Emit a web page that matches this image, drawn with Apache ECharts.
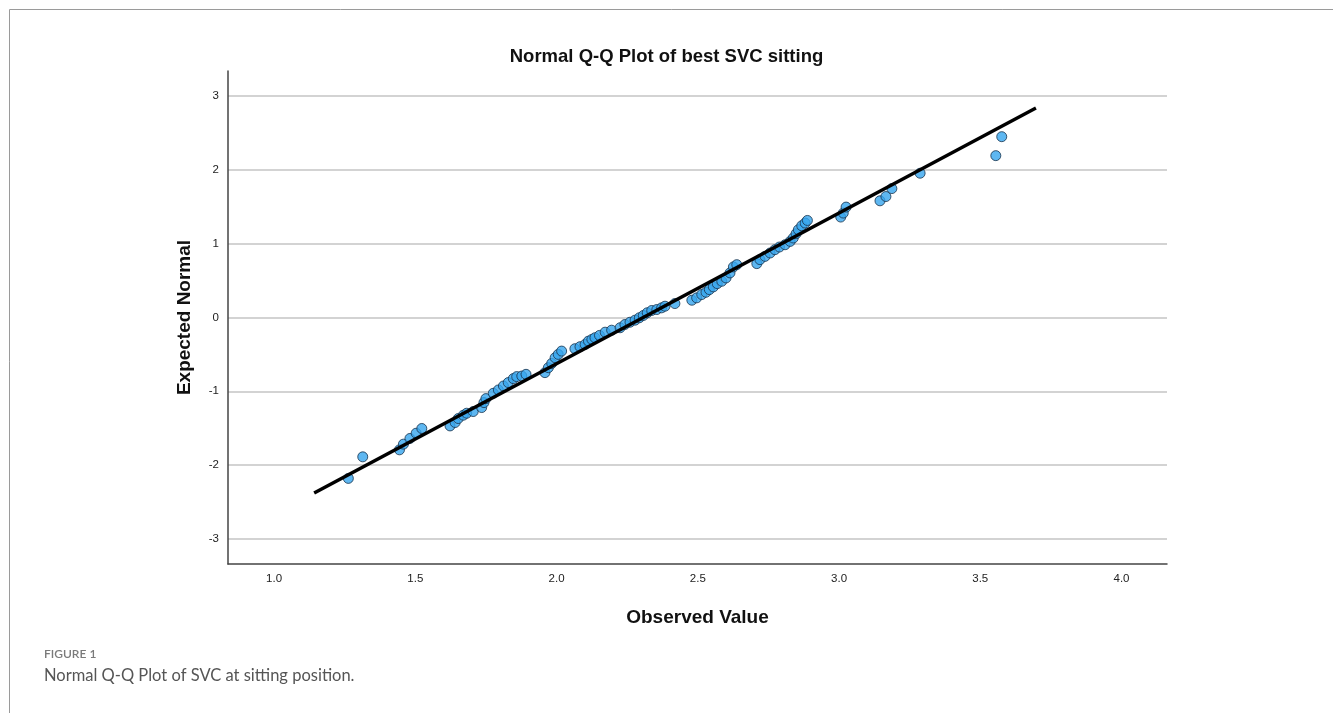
<!DOCTYPE html>
<html>
<head>
<meta charset="utf-8">
<script src="https://cdn.jsdelivr.net/npm/echarts@6/dist/echarts.min.js"></script>
<style>
html,body{margin:0;padding:0;background:#fff;}
#chart{width:1333px;height:713px;}
</style>
</head>
<body>
<div id="chart"></div>
<script>
const observed = [1.263,1.314,1.444,1.458,1.481,1.503,1.523,1.623,1.641,1.652,1.670,1.682,1.705,1.735,1.743,1.750,1.776,1.794,1.812,1.829,1.847,1.859,1.877,1.892,1.959,1.971,1.983,1.995,2.006,2.018,2.065,2.083,2.101,2.113,2.125,2.136,2.152,2.172,2.195,2.225,2.242,2.260,2.278,2.293,2.307,2.321,2.337,2.355,2.372,2.384,2.419,2.479,2.496,2.514,2.529,2.541,2.555,2.569,2.585,2.600,2.614,2.626,2.638,2.709,2.720,2.738,2.756,2.773,2.789,2.809,2.827,2.838,2.848,2.856,2.868,2.880,2.888,3.006,3.015,3.025,3.145,3.166,3.187,3.287,3.555,3.576];
const expected = [-2.180,-1.888,-1.793,-1.716,-1.639,-1.568,-1.504,-1.469,-1.423,-1.369,-1.324,-1.297,-1.274,-1.220,-1.153,-1.099,-1.027,-0.982,-0.928,-0.882,-0.828,-0.801,-0.793,-0.770,-0.747,-0.680,-0.622,-0.545,-0.500,-0.455,-0.423,-0.396,-0.365,-0.320,-0.297,-0.274,-0.243,-0.199,-0.172,-0.139,-0.095,-0.064,-0.036,-0.004,0.027,0.064,0.095,0.108,0.131,0.153,0.189,0.234,0.266,0.311,0.342,0.378,0.415,0.459,0.491,0.536,0.604,0.685,0.716,0.730,0.784,0.828,0.874,0.919,0.955,0.986,1.031,1.077,1.135,1.189,1.243,1.280,1.315,1.361,1.415,1.496,1.581,1.639,1.747,1.955,2.193,2.450];
// Reference line end points
const lineX = [1.142, 3.697];
const lineY = [-2.378, 2.838];

const titleText = 'Normal Q-Q Plot of best SVC sitting';
const xName = 'Observed Value';
const yName = 'Expected Normal';
const figLabel = 'FIGURE 1';
const caption = 'Normal Q-Q Plot of SVC at sitting position.';

const chart = echarts.init(document.getElementById('chart'), null, {renderer: 'canvas'});
const pts = observed.map((v, i) => [v, expected[i]]);
const linePts = lineX.map((v, i) => [v, lineY[i]]);
const FONT = 'Liberation Sans, Arial, sans-serif';

chart.setOption({
  animation: false,
  backgroundColor: '#fff',
  title: {
    text: titleText,
    left: 'center',
    top: 42,
    textStyle: {fontFamily: FONT, fontSize: 18.5, fontWeight: 'bold', color: '#111'}
  },
  grid: {left: 228, top: 71, right: 166, bottom: 149, containLabel: false},
  xAxis: {
    type: 'value',
    min: 0.837, max: 4.161, splitNumber: 5,
    name: xName, nameLocation: 'middle', nameGap: 44,
    nameTextStyle: {fontFamily: FONT, fontSize: 19, fontWeight: 'bold', color: '#111'},
    axisLine: {show: true, onZero: false, lineStyle: {color: '#444', width: 1.5}},
    axisTick: {show: false},
    splitLine: {show: false},
    axisLabel: {showMinLabel: false, showMaxLabel: false, margin: 9, color: '#222', fontSize: 11.5, fontFamily: FONT, formatter: v => v.toFixed(1)}
  },
  yAxis: {
    type: 'value',
    min: -3.34, max: 3.34, splitNumber: 5,
    name: yName, nameLocation: 'middle', nameGap: 34, nameRotate: 90,
    nameTextStyle: {fontFamily: FONT, fontSize: 19, fontWeight: 'bold', color: '#111'},
    axisLine: {show: true, onZero: false, lineStyle: {color: '#444', width: 1.5}},
    axisTick: {show: false},
    splitLine: {show: true, showMinLine: false, showMaxLine: false, lineStyle: {color: '#c4c4c4', width: 1.5}},
    axisLabel: {showMinLabel: false, showMaxLabel: false, margin: 9, color: '#222', fontSize: 11.5, fontFamily: FONT}
  },
  series: [
    {
      type: 'scatter',
      data: pts,
      symbol: 'circle',
      symbolSize: 10,
      itemStyle: {color: '#36a5ee', borderColor: '#17324c', borderWidth: 1},
      z: 2
    },
    {
      type: 'line',
      data: linePts,
      symbol: 'none',
      lineStyle: {color: '#000', width: 3.5},
      z: 3
    }
  ],
  graphic: [
    {type: 'rect', shape: {x: 9.5, y: 9.5, width: 1400, height: 800}, style: {fill: 'none', stroke: '#9a9a9a', lineWidth: 1}, silent: true},
    {type: 'text', left: 44, top: 648, style: {text: figLabel, fill: '#7a7a7a', font: '600 12px Lato, "Open Sans", sans-serif'}},
    {type: 'text', left: 44, top: 667, style: {text: caption, fill: '#555', font: '16.5px Lato, "Open Sans", sans-serif'}}
  ]
});
</script>
</body>
</html>
